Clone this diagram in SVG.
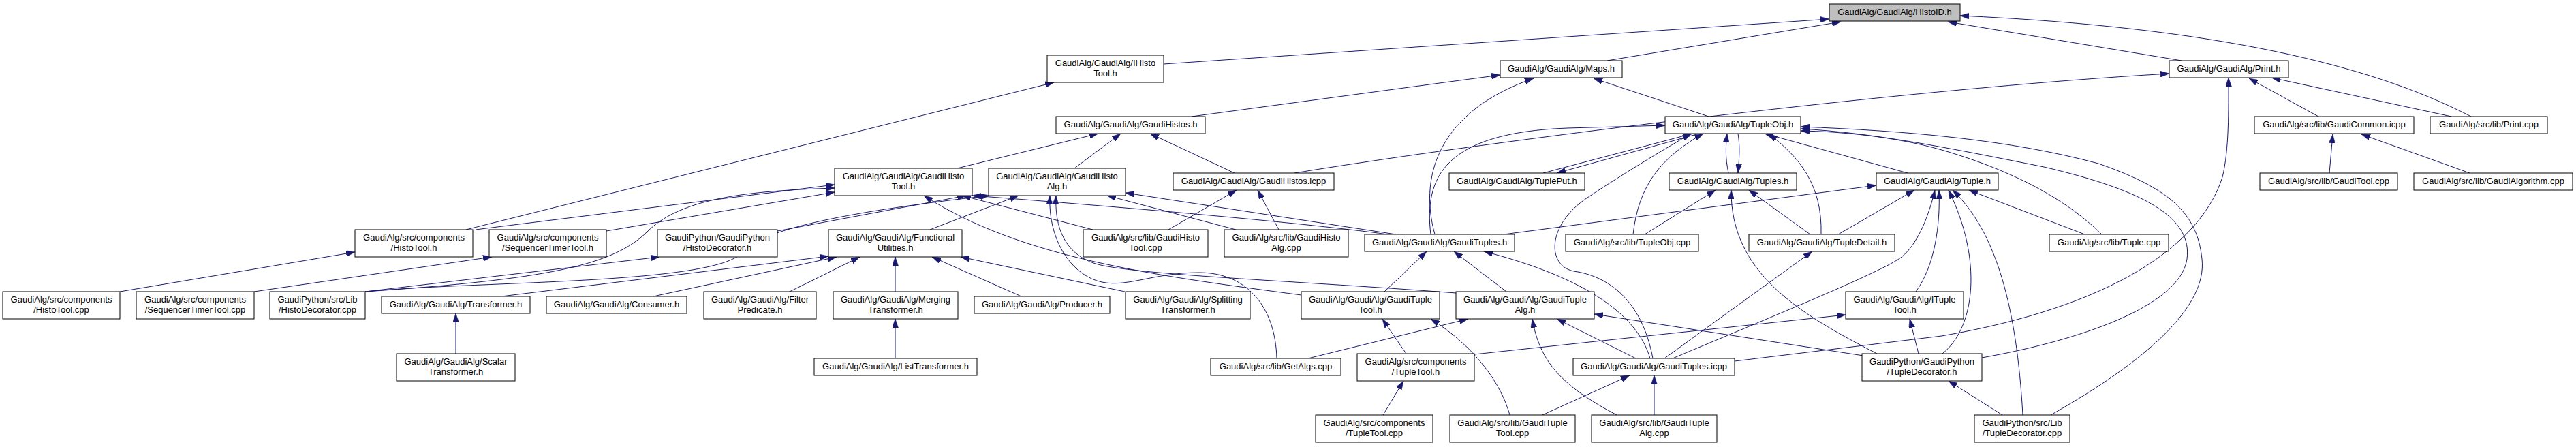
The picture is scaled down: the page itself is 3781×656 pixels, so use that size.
<svg xmlns="http://www.w3.org/2000/svg" width="3781" height="656" viewBox="0 0 3781 656">
<style>
.n rect{fill:#fff;stroke:#000;stroke-width:1}
#n_histoid rect{fill:#bfbfbf}
text{font-family:"Liberation Sans",Arial,Helvetica,sans-serif;font-size:13px;text-anchor:middle;fill:#000}
#edges path{fill:none;stroke:#191970;stroke-width:1;marker-end:url(#arr)}
</style>
<defs>
<marker id="arr" markerUnits="userSpaceOnUse" markerWidth="13" markerHeight="9" refX="13" refY="4.5" orient="auto" viewBox="0 0 13 9">
<path d="M0,0L13,4.5L0,9z" fill="#191970" stroke="#191970" stroke-width="0.5"/>
</marker>
</defs>
<rect x="0" y="0" width="3781" height="656" fill="#fff"/>
<g id="edges">
<path d="M1708,94L2685,28"/>
<path d="M2359,89L2702,32"/>
<path d="M3202,89L2859,32"/>
<path d="M3627,171C3480,95 3250,40 2877,23"/>
<path d="M684,337L1547,121"/>
<path d="M1749,171L2202,110"/>
<path d="M2106,344C2080,250 2120,160 2251,115"/>
<path d="M2508,171L2339,115"/>
<path d="M1900,254C2200,205 2800,130 3184,108"/>
<path d="M3403,171L3301,115"/>
<path d="M3598,171L3334,114"/>
<path d="M3419,254L3424,197"/>
<path d="M3625,254L3466,197"/>
<path d="M1405,247L1612,196"/>
<path d="M1577,247L1645,196"/>
<path d="M1812,254L1688,196"/>
<path d="M698,337L1225,271"/>
<path d="M890,339L1225,282"/>
<path d="M536,428C800,410 900,390 950,340C1000,290 1100,280 1225,276"/>
<path d="M536,428L968,377"/>
<path d="M536,428C700,412 1050,418 1090,370C1120,335 1250,310 1452,287"/>
<path d="M1141,339L1418,287"/>
<path d="M176,428L521,370"/>
<path d="M373,428L722,377"/>
<path d="M669,519L669,460"/>
<path d="M736,435L1216,376"/>
<path d="M959,435L1228,377"/>
<path d="M1159,428L1262,377"/>
<path d="M1314,428L1314,377"/>
<path d="M1499,435L1368,377"/>
<path d="M1651,428L1410,377"/>
<path d="M1314,526L1314,468"/>
<path d="M1365,337L1495,287"/>
<path d="M1604,337L1412,287"/>
<path d="M1715,337L1815,279"/>
<path d="M1814,337L1625,287"/>
<path d="M1877,337L1846,279"/>
<path d="M2037,344C1900,325 1600,300 1427,287"/>
<path d="M2049,344L1652,283"/>
<path d="M1910,433C1700,405 1500,380 1356,287"/>
<path d="M2137,430C1900,412 1700,405 1620,390C1560,378 1548,330 1550,287"/>
<path d="M1874,526C1872,450 1830,400 1760,400S1650,425 1610,412S1538,350 1541,287"/>
<path d="M1920,526L2155,468"/>
<path d="M2032,428L2094,369"/>
<path d="M2211,428L2134,369"/>
<path d="M2064,519L2029,468"/>
<path d="M2030,609L2060,559"/>
<path d="M2216,609C2204,565 2167,510 2100,468"/>
<path d="M2264,609L2392,551"/>
<path d="M2373,609C2290,565 2260,530 2249,468"/>
<path d="M2428,609L2428,551"/>
<path d="M2164,520L2709,462"/>
<path d="M2401,526L2285,468"/>
<path d="M2422,526C2400,450 2300,400 2178,369"/>
<path d="M2426,526C2410,440 2360,405 2310,398C2270,390 2270,330 2330,290C2390,250 2450,215 2482,196"/>
<path d="M2443,526L2660,369"/>
<path d="M2455,526C2600,465 2760,400 2790,378C2820,355 2835,300 2840,279"/>
<path d="M2546,530L2850,493C3100,450 3230,360 3262,260C3272,220 3271,160 3271,114"/>
<path d="M2100,344C2090,260 2120,195 2300,188L2444,184"/>
<path d="M2207,344L2754,272"/>
<path d="M2265,254L2484,196"/>
<path d="M2494,196L2285,254"/>
<path d="M2397,344C2405,270 2440,230 2500,196"/>
<path d="M2414,344L2518,279"/>
<path d="M2537,254C2532,230 2533,215 2535,196"/>
<path d="M2551,196C2554,215 2553,230 2551,254"/>
<path d="M2800,254L2590,196"/>
<path d="M2657,344L2567,279"/>
<path d="M2673,344C2675,270 2640,230 2596,196"/>
<path d="M2698,344L2810,279"/>
<path d="M2755,519C2640,460 2540,400 2541,279"/>
<path d="M2735,522L2340,461"/>
<path d="M2816,519L2803,468"/>
<path d="M2851,519C2900,480 2910,380 2860,279"/>
<path d="M2909,525C3050,500 3200,450 3210,380C3218,320 3150,280 3000,245C2850,215 2750,195 2643,189"/>
<path d="M2939,609L2860,559"/>
<path d="M2969,609C2960,450 2930,340 2866,279"/>
<path d="M3010,609C3150,530 3240,450 3232,380C3225,310 3180,275 3080,240C2950,205 2800,192 2643,186"/>
<path d="M3085,344C3040,300 2970,255 2850,220C2780,200 2700,193 2643,192"/>
<path d="M3060,344L2890,279"/>
<path d="M2812,428C2840,390 2848,330 2846,279"/>
</g>
<g id="n_histoid" class="n"><rect x="2685" y="6" width="192" height="25"/><text x="2781" y="22">GaudiAlg/GaudiAlg/HistoID.h</text></g>
<g id="n_ihistotool" class="n"><rect x="1537" y="81" width="171" height="40"/><text x="1622.5" y="97">GaudiAlg/GaudiAlg/IHisto</text><text x="1622.5" y="111.5">Tool.h</text></g>
<g id="n_maps" class="n"><rect x="2202" y="89" width="179" height="25"/><text x="2291.5" y="105">GaudiAlg/GaudiAlg/Maps.h</text></g>
<g id="n_print" class="n"><rect x="3184" y="89" width="175" height="25"/><text x="3271.5" y="105">GaudiAlg/GaudiAlg/Print.h</text></g>
<g id="n_gaudihistos" class="n"><rect x="1550" y="171" width="219" height="25"/><text x="1659.5" y="187">GaudiAlg/GaudiAlg/GaudiHistos.h</text></g>
<g id="n_tupleobj" class="n"><rect x="2444" y="171" width="199" height="25"/><text x="2543.5" y="187">GaudiAlg/GaudiAlg/TupleObj.h</text></g>
<g id="n_gaudicommon" class="n"><rect x="3309" y="171" width="234" height="25"/><text x="3426" y="187">GaudiAlg/src/lib/GaudiCommon.icpp</text></g>
<g id="n_printcpp" class="n"><rect x="3567" y="171" width="172" height="25"/><text x="3653" y="187">GaudiAlg/src/lib/Print.cpp</text></g>
<g id="n_ghtool" class="n"><rect x="1225" y="247" width="202" height="40"/><text x="1326" y="263">GaudiAlg/GaudiAlg/GaudiHisto</text><text x="1326" y="277.5">Tool.h</text></g>
<g id="n_ghalg" class="n"><rect x="1451" y="247" width="201" height="40"/><text x="1551.5" y="263">GaudiAlg/GaudiAlg/GaudiHisto</text><text x="1551.5" y="277.5">Alg.h</text></g>
<g id="n_ghicpp" class="n"><rect x="1722" y="254" width="236" height="25"/><text x="1840" y="270">GaudiAlg/GaudiAlg/GaudiHistos.icpp</text></g>
<g id="n_tupleput" class="n"><rect x="2127" y="254" width="199" height="25"/><text x="2226.5" y="270">GaudiAlg/GaudiAlg/TuplePut.h</text></g>
<g id="n_tuples" class="n"><rect x="2450" y="254" width="187" height="25"/><text x="2543.5" y="270">GaudiAlg/GaudiAlg/Tuples.h</text></g>
<g id="n_tuple" class="n"><rect x="2754" y="254" width="179" height="25"/><text x="2843.5" y="270">GaudiAlg/GaudiAlg/Tuple.h</text></g>
<g id="n_gtoolcpp" class="n"><rect x="3317" y="254" width="202" height="25"/><text x="3418" y="270">GaudiAlg/src/lib/GaudiTool.cpp</text></g>
<g id="n_galgcpp" class="n"><rect x="3543" y="254" width="233" height="25"/><text x="3659.5" y="270">GaudiAlg/src/lib/GaudiAlgorithm.cpp</text></g>
<g id="n_histotoolh" class="n"><rect x="521" y="337" width="173" height="40"/><text x="607.5" y="353">GaudiAlg/src/components</text><text x="607.5" y="367.5">/HistoTool.h</text></g>
<g id="n_seqh" class="n"><rect x="718" y="337" width="172" height="40"/><text x="804" y="353">GaudiAlg/src/components</text><text x="804" y="367.5">/SequencerTimerTool.h</text></g>
<g id="n_histodech" class="n"><rect x="965" y="337" width="176" height="40"/><text x="1053" y="353">GaudiPython/GaudiPython</text><text x="1053" y="367.5">/HistoDecorator.h</text></g>
<g id="n_func" class="n"><rect x="1216" y="337" width="196" height="40"/><text x="1314" y="353">GaudiAlg/GaudiAlg/Functional</text><text x="1314" y="367.5">Utilities.h</text></g>
<g id="n_ghtoolcpp" class="n"><rect x="1590" y="337" width="183" height="40"/><text x="1681.5" y="353">GaudiAlg/src/lib/GaudiHisto</text><text x="1681.5" y="367.5">Tool.cpp</text></g>
<g id="n_ghalgcpp" class="n"><rect x="1797" y="337" width="182" height="40"/><text x="1888" y="353">GaudiAlg/src/lib/GaudiHisto</text><text x="1888" y="367.5">Alg.cpp</text></g>
<g id="n_gtuples" class="n"><rect x="2003" y="344" width="220" height="25"/><text x="2113" y="360">GaudiAlg/GaudiAlg/GaudiTuples.h</text></g>
<g id="n_tupleobjcpp" class="n"><rect x="2298" y="344" width="195" height="25"/><text x="2395.5" y="360">GaudiAlg/src/lib/TupleObj.cpp</text></g>
<g id="n_tupledetail" class="n"><rect x="2567" y="344" width="214" height="25"/><text x="2674" y="360">GaudiAlg/GaudiAlg/TupleDetail.h</text></g>
<g id="n_tuplecpp" class="n"><rect x="3008" y="344" width="175" height="25"/><text x="3095.5" y="360">GaudiAlg/src/lib/Tuple.cpp</text></g>
<g id="n_histotoolcpp" class="n"><rect x="4" y="428" width="172" height="40"/><text x="90" y="444">GaudiAlg/src/components</text><text x="90" y="458.5">/HistoTool.cpp</text></g>
<g id="n_seqcpp" class="n"><rect x="200" y="428" width="173" height="40"/><text x="286.5" y="444">GaudiAlg/src/components</text><text x="286.5" y="458.5">/SequencerTimerTool.cpp</text></g>
<g id="n_histodeccpp" class="n"><rect x="396" y="428" width="140" height="40"/><text x="466" y="444">GaudiPython/src/Lib</text><text x="466" y="458.5">/HistoDecorator.cpp</text></g>
<g id="n_transformer" class="n"><rect x="560" y="435" width="218" height="25"/><text x="669" y="451">GaudiAlg/GaudiAlg/Transformer.h</text></g>
<g id="n_consumer" class="n"><rect x="802" y="435" width="206" height="25"/><text x="905" y="451">GaudiAlg/GaudiAlg/Consumer.h</text></g>
<g id="n_filter" class="n"><rect x="1033" y="428" width="165" height="40"/><text x="1115.5" y="444">GaudiAlg/GaudiAlg/Filter</text><text x="1115.5" y="458.5">Predicate.h</text></g>
<g id="n_merging" class="n"><rect x="1223" y="428" width="183" height="40"/><text x="1314.5" y="444">GaudiAlg/GaudiAlg/Merging</text><text x="1314.5" y="458.5">Transformer.h</text></g>
<g id="n_producer" class="n"><rect x="1430" y="435" width="199" height="25"/><text x="1529.5" y="451">GaudiAlg/GaudiAlg/Producer.h</text></g>
<g id="n_splitting" class="n"><rect x="1652" y="428" width="183" height="40"/><text x="1743.5" y="444">GaudiAlg/GaudiAlg/Splitting</text><text x="1743.5" y="458.5">Transformer.h</text></g>
<g id="n_gtupletool" class="n"><rect x="1910" y="428" width="203" height="40"/><text x="2011.5" y="444">GaudiAlg/GaudiAlg/GaudiTuple</text><text x="2011.5" y="458.5">Tool.h</text></g>
<g id="n_gtuplealg" class="n"><rect x="2137" y="428" width="203" height="40"/><text x="2238.5" y="444">GaudiAlg/GaudiAlg/GaudiTuple</text><text x="2238.5" y="458.5">Alg.h</text></g>
<g id="n_ituple" class="n"><rect x="2709" y="428" width="173" height="40"/><text x="2795.5" y="444">GaudiAlg/GaudiAlg/ITuple</text><text x="2795.5" y="458.5">Tool.h</text></g>
<g id="n_scalar" class="n"><rect x="582" y="519" width="174" height="40"/><text x="669" y="535">GaudiAlg/GaudiAlg/Scalar</text><text x="669" y="549.5">Transformer.h</text></g>
<g id="n_list" class="n"><rect x="1195" y="526" width="239" height="25"/><text x="1314.5" y="542">GaudiAlg/GaudiAlg/ListTransformer.h</text></g>
<g id="n_getalgs" class="n"><rect x="1777" y="526" width="191" height="25"/><text x="1872.5" y="542">GaudiAlg/src/lib/GetAlgs.cpp</text></g>
<g id="n_tupletoolh" class="n"><rect x="1992" y="519" width="172" height="40"/><text x="2078" y="535">GaudiAlg/src/components</text><text x="2078" y="549.5">/TupleTool.h</text></g>
<g id="n_gtuplesicpp" class="n"><rect x="2309" y="526" width="237" height="25"/><text x="2427.5" y="542">GaudiAlg/GaudiAlg/GaudiTuples.icpp</text></g>
<g id="n_tupledech" class="n"><rect x="2733" y="519" width="176" height="40"/><text x="2821" y="535">GaudiPython/GaudiPython</text><text x="2821" y="549.5">/TupleDecorator.h</text></g>
<g id="n_tupletoolcpp" class="n"><rect x="1931" y="609" width="172" height="40"/><text x="2017" y="625">GaudiAlg/src/components</text><text x="2017" y="639.5">/TupleTool.cpp</text></g>
<g id="n_gtupletoolcpp" class="n"><rect x="2128" y="609" width="184" height="40"/><text x="2220" y="625">GaudiAlg/src/lib/GaudiTuple</text><text x="2220" y="639.5">Tool.cpp</text></g>
<g id="n_gtuplealgcpp" class="n"><rect x="2336" y="609" width="184" height="40"/><text x="2428" y="625">GaudiAlg/src/lib/GaudiTuple</text><text x="2428" y="639.5">Alg.cpp</text></g>
<g id="n_tupledeccpp" class="n"><rect x="2898" y="609" width="140" height="40"/><text x="2968" y="625">GaudiPython/src/Lib</text><text x="2968" y="639.5">/TupleDecorator.cpp</text></g>
</svg>
